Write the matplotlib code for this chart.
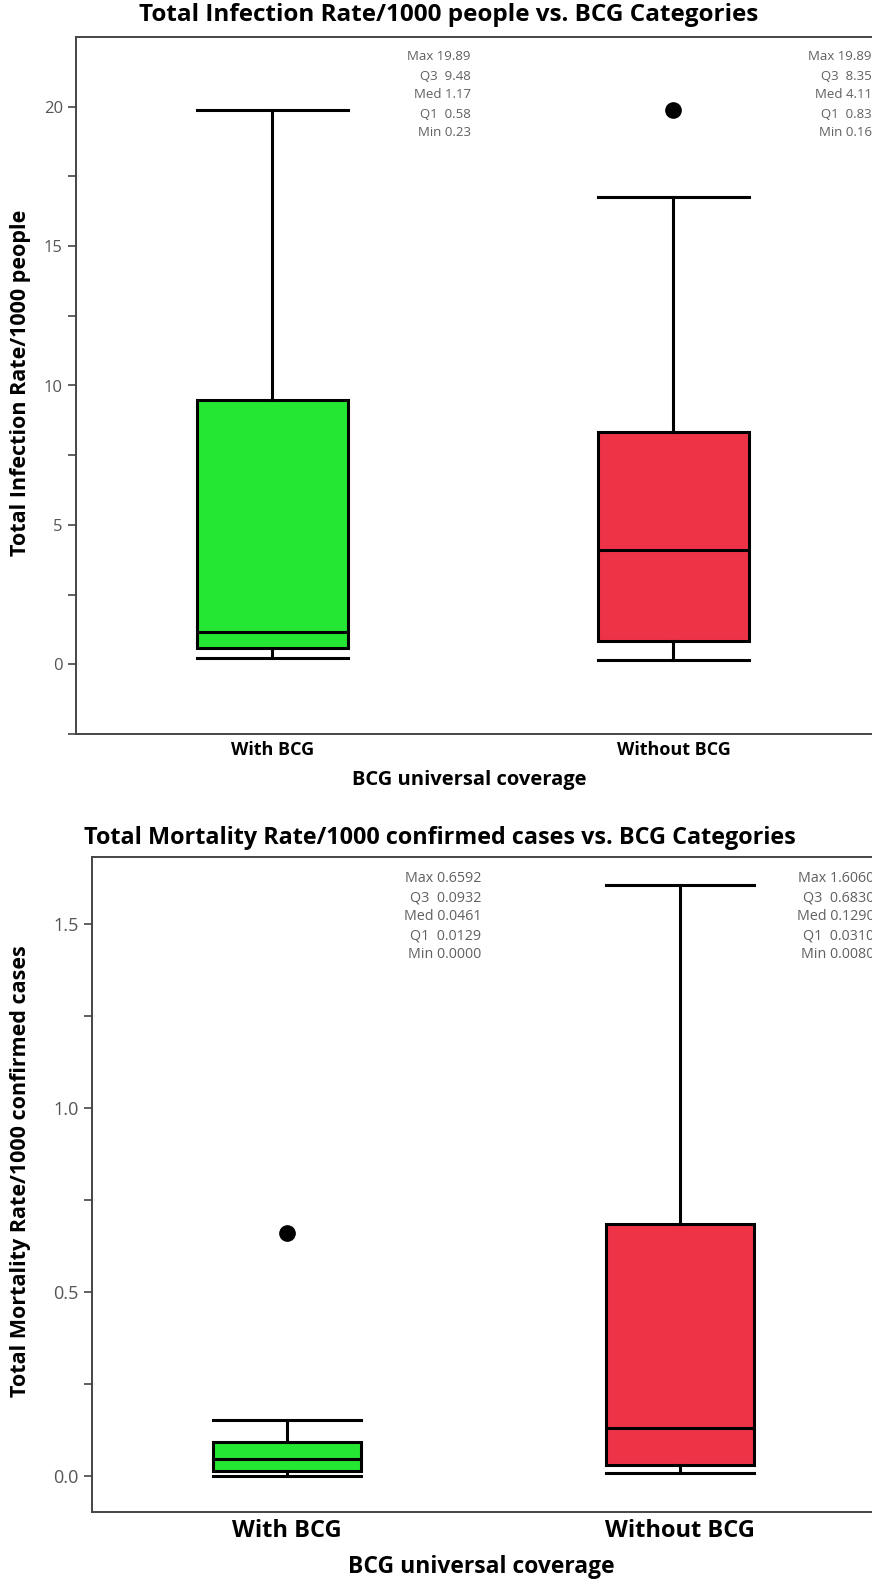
import matplotlib.pyplot as plt
import matplotlib.transforms as mtransforms

# ---------- data ----------
categories = ["With BCG", "Without BCG"]

# infection rate / 1000 people
inf_max = [19.89, 19.89]
inf_q3 = [9.48, 8.35]
inf_med = [1.17, 4.11]
inf_q1 = [0.58, 0.83]
inf_min = [0.23, 0.16]
inf_whis_hi = [19.89, 16.75]
inf_outliers = [[], [19.89]]

# mortality rate / 1000 confirmed cases
mort_max = [0.6592, 1.606]
mort_q3 = [0.0932, 0.683]
mort_med = [0.0461, 0.129]
mort_q1 = [0.0129, 0.031]
mort_min = [0.0000, 0.008]
mort_whis_hi = [0.152, 1.606]
mort_outliers = [[0.6592], []]

colors = ["#24E733", "#EE3346"]

W, H = 872, 1581
plt.rcParams['font.family'] = ['Open Sans', 'DejaVu Sans']
fig = plt.figure(figsize=(W / 100, H / 100), dpi=100)


def px_axes(l, t, r, b):
    return fig.add_axes([l / W, 1 - b / H, (r - l) / W, (b - t) / H])


def draw_box(ax, q1, med, q3, lo, hi, fliers, mx, mn, fmt, text_off, text_fs,
             tick_fs, xtick_fs):
    stats = []
    for i in range(len(categories)):
        stats.append(dict(med=med[i], q1=q1[i], q3=q3[i], whislo=lo[i],
                          whishi=hi[i], fliers=fliers[i], label=categories[i]))
    bp = ax.bxp(stats, positions=[0, 1], widths=0.375, capwidths=0.375,
                patch_artist=True, showfliers=True,
                boxprops=dict(linewidth=2.2, edgecolor='black'),
                medianprops=dict(color='black', linewidth=2.2),
                whiskerprops=dict(color='black', linewidth=2.2),
                capprops=dict(color='black', linewidth=2.2),
                flierprops=dict(marker='o', markerfacecolor='black',
                                markeredgecolor='black', markersize=11))
    for patch, c in zip(bp['boxes'], colors):
        patch.set_facecolor(c)

    # summary text per group
    trans = mtransforms.blended_transform_factory(ax.transData, ax.transAxes)
    for i in range(len(categories)):
        lines = ["Max " + fmt % mx[i], "Q3  " + fmt % q3[i], "Med " + fmt % med[i],
                 "Q1  " + fmt % q1[i], "Min " + fmt % mn[i]]
        for j, s in enumerate(lines):
            ax.annotate(s, xy=(i + 0.495, 1), xycoords=trans,
                        xytext=(0, -text_off - 19 * j), textcoords='offset pixels',
                        ha='right', va='center', fontsize=text_fs, color='#606060',
                        annotation_clip=False)

    for sp in ax.spines.values():
        sp.set_color('#454545')
        sp.set_linewidth(1.4)
    ax.tick_params(axis='y', colors='#454545', labelcolor='#555555',
                   labelsize=tick_fs, length=6, width=1.2, which='both')
    ax.tick_params(axis='x', length=0, labelsize=xtick_fs, pad=5)
    for lab in ax.get_xticklabels():
        lab.set_fontweight('bold')
        lab.set_color('black')


# ---------- top chart ----------
ax1 = px_axes(76, 37, 874, 734)
draw_box(ax1, inf_q1, inf_med, inf_q3, inf_min, inf_whis_hi, inf_outliers,
         inf_max, inf_min, "%.2f", 20, 9.5, 12, 13)
ax1.set_xlim(-0.49, 1.5)
ax1.set_ylim(-2.5, 22.5)
ax1.set_yticks([0, 5, 10, 15, 20])
ax1.set_yticks([-2.5, 2.5, 7.5, 12.5, 17.5], minor=True)

fig.text(449 / W, 1 - 15 / H, "Total Infection Rate/1000 people vs. BCG Categories",
         ha='center', va='center', fontsize=17.5, fontweight='bold')
fig.text(21 / W, 1 - 383 / H, "Total Infection Rate/1000 people", rotation=90,
         ha='center', va='center', fontsize=15.5, fontweight='bold')
fig.text(469 / W, 1 - 780 / H, "BCG universal coverage",
         ha='center', va='center', fontsize=14.5, fontweight='bold')

# ---------- bottom chart ----------
ax2 = px_axes(92, 857, 874, 1512)
draw_box(ax2, mort_q1, mort_med, mort_q3, mort_min, mort_whis_hi, mort_outliers,
         mort_max, mort_min, "%.4f", 22, 10.3, 13, 17)
ax2.set_xlim(-0.496, 1.494)
ax2.set_ylim(-0.098, 1.681)
ax2.set_yticks([0.0, 0.5, 1.0, 1.5])
ax2.set_yticklabels(["0.0", "0.5", "1.0", "1.5"])
ax2.set_yticks([0.25, 0.75, 1.25], minor=True)

fig.text(440 / W, 1 - 838 / H,
         "Total Mortality Rate/1000 confirmed cases vs. BCG Categories",
         ha='center', va='center', fontsize=16.8, fontweight='bold')
fig.text(21 / W, 1 - 1171 / H, "Total Mortality Rate/1000 confirmed cases",
         rotation=90, ha='center', va='center', fontsize=15.5, fontweight='bold')
fig.text(481 / W, 1 - 1567 / H, "BCG universal coverage",
         ha='center', va='center', fontsize=16.5, fontweight='bold')

fig.savefig("out.png", dpi=100)
